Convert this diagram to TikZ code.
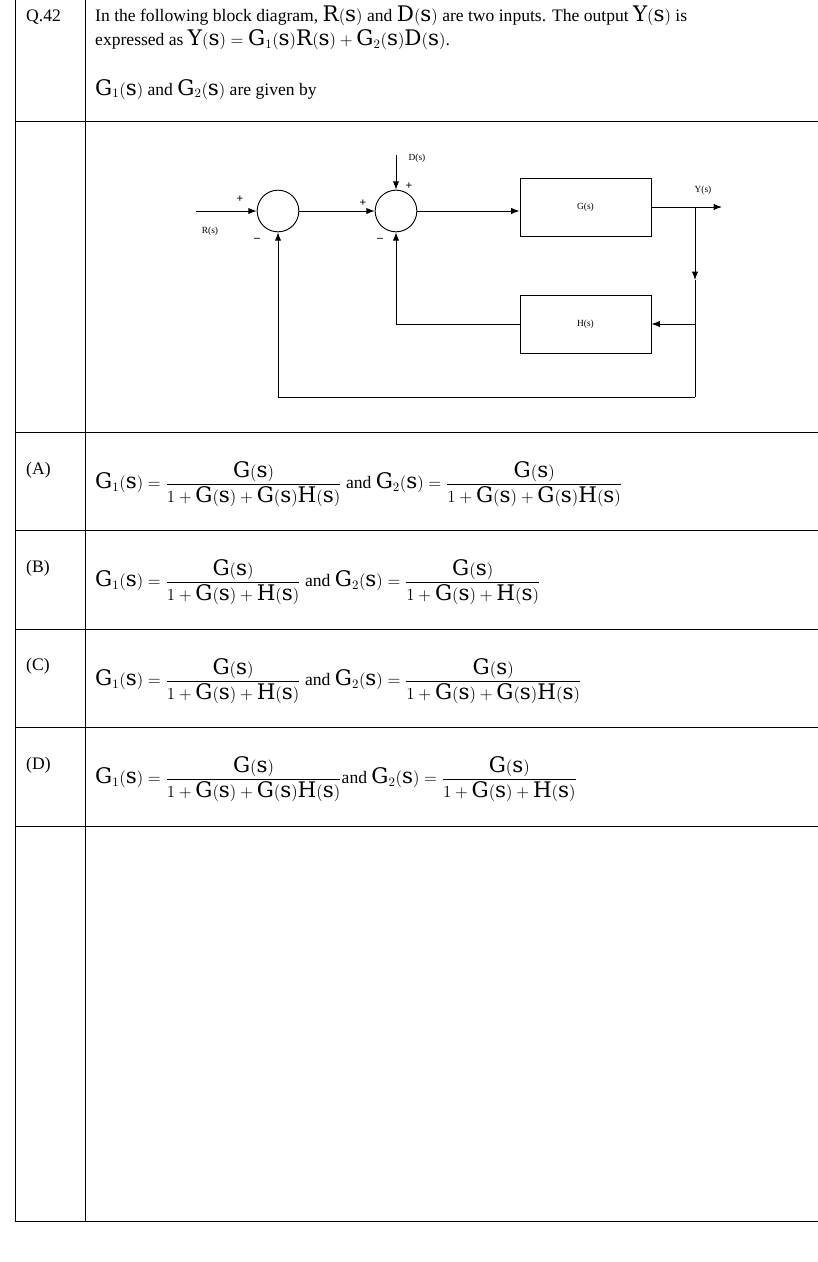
\documentclass[tikz,border=0pt]{standalone}
\usepackage{amsmath}
\usepackage{fontspec}
\setmainfont{Liberation Serif}
\setmathrm{DejaVu Serif}[Scale=1.22]
\usetikzlibrary{positioning,arrows.meta}
\tikzset{
  sum/.style={draw,thick,circle,minimum size=1.25cm,inner sep=0pt},
  blk/.style={draw,thick,minimum width=3.93cm,minimum height=1.74cm,font=\footnotesize},
  sig/.style={thick,-{Latex[length=2.5mm]}},
  small/.style={font=\footnotesize},
  pm/.style={font=\normalsize\bfseries},
  txt/.style={anchor=base west,inner sep=0pt,font=\fontsize{15}{18}\selectfont},
}
\newcommand{\Gf}[1]{\mathrm{G}_{#1}(\mathrm{s})}
\newcommand{\sg}[1]{\mathrm{#1}(\mathrm{s})}
\begin{document}
\begin{tikzpicture}[x=0.03cm,y=-0.03cm]
\useasboundingbox (0,0) rectangle (818,1262);
% table
\draw (15,0) -- (15,1221);
\draw (85,0) -- (85,1221);
\foreach \y in {121,432,530,629,727,826,1221} {\draw (15,\y) -- (818,\y);}
\node[txt] (q) at (26,22) {Q.42};
\node[txt] (l1) at (95,22) {In the following block diagram, $\sg R$ and $\sg D$ are two inputs. The output $\sg Y$ is};
\node[txt] (l2) at (95,46) {expressed as $\sg Y=\Gf1\sg R+\Gf2\sg D$.};
\node[txt] (l3) at (95,95) {$\Gf1$ and $\Gf2$ are given by};
% block diagram
\node[sum] (s1) at (278,211) {};
\node[sum] (s2) at (396,211) {};
\node[blk] (g) at (585.5,207) {G(s)};
\node[blk] (h) at (585.5,324) {H(s)};
\coordinate (rin) at (196,211);
\coordinate (din) at (396,155);
\coordinate (yout) at (722,207);
\coordinate (br) at (695,207);
\coordinate (bd) at (695,280);
\coordinate (hb) at (695,324);
\coordinate (bot) at (695,397);
\draw[sig] (rin) -- (s1);
\draw[sig] (s1) -- (s2);
\draw[sig] (din) -- (s2);
\draw[sig] (s2) -- (s2 -| g.west);
\draw[sig] (g) -- (yout);
\draw[sig] (br) -- (bd);
\draw[thick] (bd) -- (bot);
\draw[sig] (hb) -- (h);
\draw[sig] (h.west) -| (s2.south);
\draw[sig] (bot) -| (s1.south);
\node[small] (rl) at (210,231) {R(s)};
\node[small] (dl) at (417,158) {D(s)};
\node[small] (yl) at (703,190) {Y(s)};
\node[pm] (p1) at (240,199) {+};
\node[pm] (m1) at (257,240) {--};
\node[pm] (p2) at (363,203) {+};
\node[pm] (p3) at (409,186) {+};
\node[pm] (m2) at (380,240) {--};
% options
\foreach \y/\l in {474/A,572/B,670/C,769/D} {\node[txt] at (26,\y) {(\l)};}
\node[txt,anchor=west] (oa) at (95,484) {$\Gf1=\dfrac{\sg G}{1+\sg G+\sg G\sg H}$ and $\Gf2=\dfrac{\sg G}{1+\sg G+\sg G\sg H}$};
\node[txt,anchor=west] (ob) at (95,582) {$\Gf1=\dfrac{\sg G}{1+\sg G+\sg H}$ and $\Gf2=\dfrac{\sg G}{1+\sg G+\sg H}$};
\node[txt,anchor=west] (oc) at (95,681) {$\Gf1=\dfrac{\sg G}{1+\sg G+\sg H}$ and $\Gf2=\dfrac{\sg G}{1+\sg G+\sg G\sg H}$};
\node[txt,anchor=west] (od) at (95,779) {$\Gf1=\dfrac{\sg G}{1+\sg G+\sg G\sg H}$and $\Gf2=\dfrac{\sg G}{1+\sg G+\sg H}$};
\end{tikzpicture}
\end{document}
